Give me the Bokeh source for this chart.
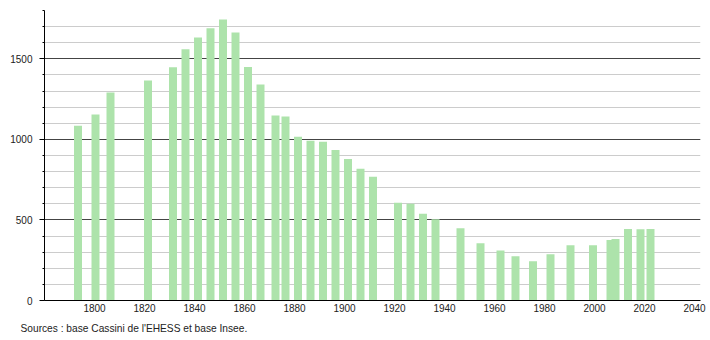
from bokeh.plotting import figure
from bokeh.models import (ColumnDataSource, Range1d, FixedTicker, SingleIntervalTicker,
                          Title)
from bokeh.transform import dodge
from bokeh.embed import file_html
from bokeh.resources import INLINE

years = [1793, 1800, 1806, 1821, 1831, 1836, 1841, 1846, 1851, 1856, 1861, 1866,
         1872, 1876, 1881, 1886, 1891, 1896, 1901, 1906, 1911, 1921, 1926, 1931,
         1936, 1946, 1954, 1962, 1968, 1975, 1982, 1990, 1999, 2006, 2008, 2013,
         2018, 2022]
population = [1085, 1154, 1291, 1366, 1447, 1559, 1632, 1690, 1744, 1663, 1449, 1341,
              1148, 1142, 1017, 992, 985, 934, 878, 818, 768, 606, 600, 538,
              505, 449, 355, 311, 274, 243, 287, 343, 343, 376, 382, 444,
              442, 444]
x_ticks = [1800, 1820, 1840, 1860, 1880, 1900, 1920, 1940, 1960, 1980, 2000, 2020, 2040]
source_text = "Sources : base Cassini de l'EHESS et base Insee."

src = ColumnDataSource(dict(year=years, pop=population))

p = figure(width=710, height=340, output_backend="svg", toolbar_location=None,
           x_range=Range1d(1780, 2042.4), y_range=Range1d(0, 1800),
           min_border_left=44, min_border_right=10, min_border_top=10,
           min_border_bottom=40)
p.outline_line_color = None
p.background_fill_color = "white"
p.border_fill_color = "white"

p.vbar(x=dodge("year", 0.4, range=p.x_range), top="pop", width=3.2, bottom=0,
       source=src, fill_color="#ade3ab", line_color=None)

# x axis
p.xaxis.ticker = FixedTicker(ticks=x_ticks)
p.xaxis.major_tick_out = 0
p.xaxis.major_tick_in = 0
p.xaxis.minor_tick_out = 0
p.xaxis.axis_line_color = "black"
p.xaxis.major_label_text_font = "Liberation Sans"
p.xaxis.major_label_text_font_size = "10px"
p.xaxis.major_label_text_color = "#222222"
p.xaxis.major_label_standoff = 3
p.xgrid.grid_line_color = None

# y axis
p.yaxis.ticker = SingleIntervalTicker(interval=500, num_minor_ticks=5)
p.yaxis.major_tick_out = 5
p.yaxis.major_tick_in = 0
p.yaxis.minor_tick_out = 2
p.yaxis.minor_tick_in = 0
p.yaxis.axis_line_color = "black"
p.yaxis.major_tick_line_color = "black"
p.yaxis.minor_tick_line_color = "black"
p.yaxis.major_label_text_font = "Liberation Sans"
p.yaxis.major_label_text_font_size = "10px"
p.yaxis.major_label_text_color = "#222222"
p.yaxis.major_label_standoff = 7

p.ygrid.ticker = SingleIntervalTicker(interval=500, num_minor_ticks=5)
p.ygrid.grid_line_color = "#444444"
p.ygrid.grid_line_width = 1
p.ygrid.minor_grid_line_color = "#cccccc"
p.ygrid.minor_grid_line_width = 1
p.ygrid.level = "underlay"

title = Title(text=source_text, align="left", offset=-24, standoff=12,
              text_font="Liberation Sans", text_font_size="10.2px",
              text_font_style="normal", text_color="#222222")
p.add_layout(title, "below")

open("out.html", "w").write(file_html(p, INLINE))
